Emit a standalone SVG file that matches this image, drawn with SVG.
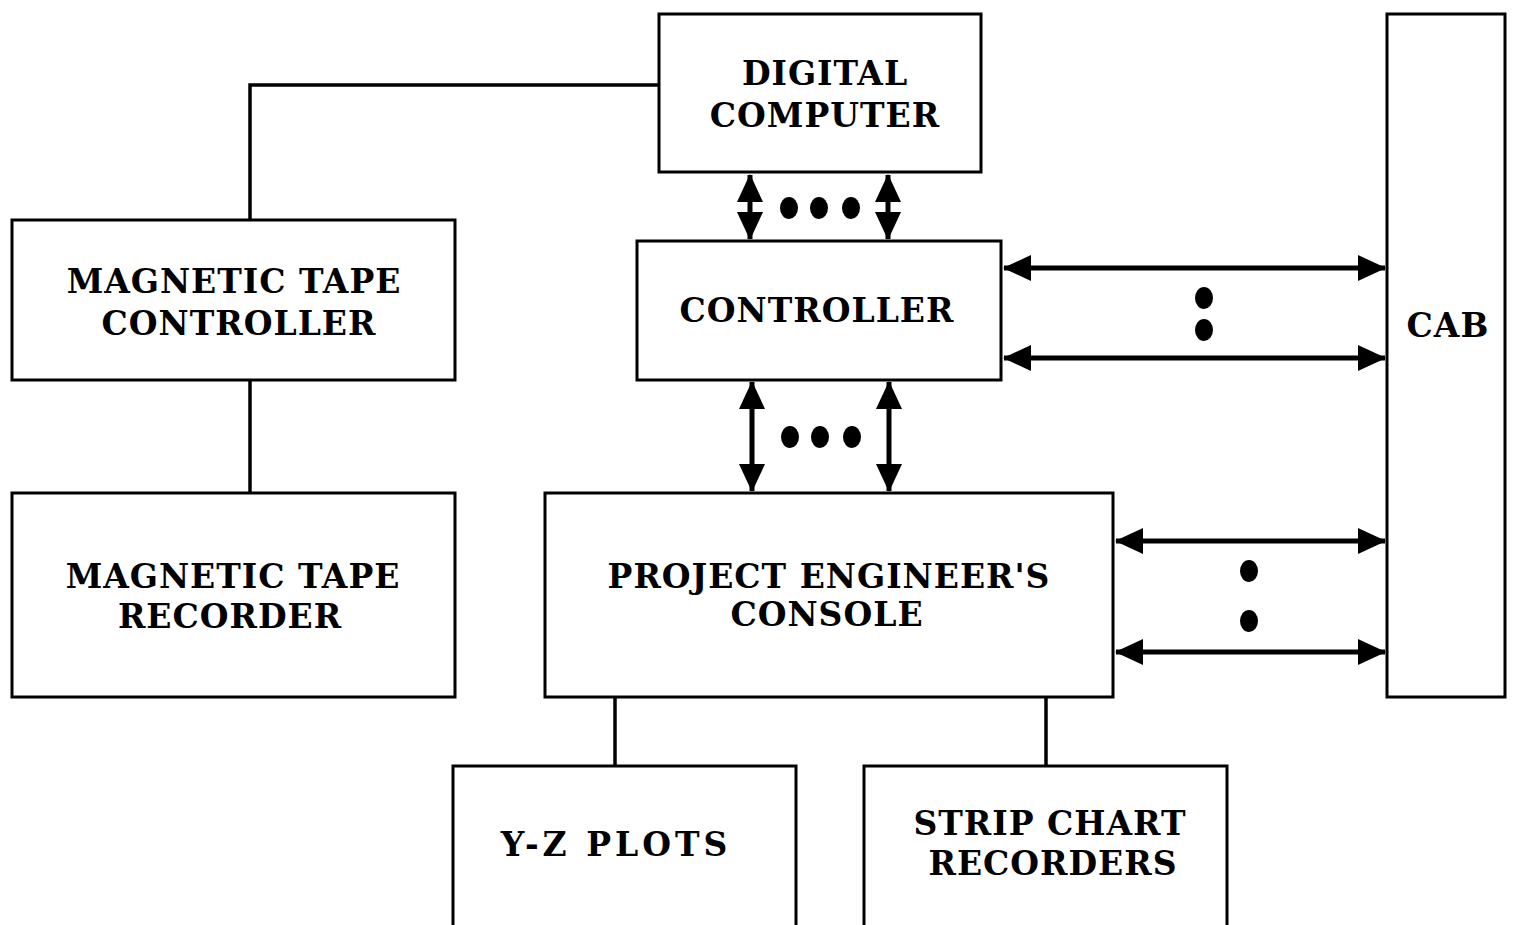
<svg xmlns="http://www.w3.org/2000/svg" width="1516" height="925" viewBox="0 0 1516 925">
<defs>
<style>
.box{fill:#fff;stroke:#000;stroke-width:3}
.t{font-family:"DejaVu Serif","Liberation Serif",serif;font-weight:bold;font-size:33px;text-anchor:middle;fill:#000;letter-spacing:1px}
.ln{fill:none;stroke:#000;stroke-width:3.5}
.ar{fill:none;stroke:#000;stroke-width:5;marker-start:url(#ah);marker-end:url(#ah)}
.dot{fill:#000}
</style>
<marker id="ah" viewBox="0 0 28 26" refX="27" refY="13" markerWidth="28" markerHeight="26" markerUnits="userSpaceOnUse" orient="auto-start-reverse">
<path d="M0,0 L28,13 L0,26 Z" fill="#000"/>
</marker>
</defs>
<rect width="1516" height="925" fill="#fff"/>
<g id="connectors">
<polyline class="ln" points="659,85 250,85 250,220"/>
<line class="ln" x1="250" y1="380" x2="250" y2="493"/>
<line class="ln" x1="615" y1="697" x2="615" y2="766"/>
<line class="ln" x1="1046" y1="697" x2="1046" y2="766"/>
<line class="ar" x1="750" y1="175" x2="750" y2="239"/>
<line class="ar" x1="888" y1="175" x2="888" y2="239"/>
<line class="ar" x1="752" y1="382" x2="752" y2="491"/>
<line class="ar" x1="889" y1="382" x2="889" y2="491"/>
<line class="ar" x1="1004" y1="268" x2="1385" y2="268"/>
<line class="ar" x1="1004" y1="358" x2="1385" y2="358"/>
<line class="ar" x1="1116" y1="541" x2="1385" y2="541"/>
<line class="ar" x1="1116" y1="652" x2="1385" y2="652"/>
<g class="dot">
<ellipse cx="789" cy="208" rx="9" ry="11"/>
<ellipse cx="819" cy="208" rx="9" ry="11"/>
<ellipse cx="851" cy="208" rx="9" ry="11"/>
<ellipse cx="790" cy="437" rx="9" ry="11"/>
<ellipse cx="820" cy="437" rx="9" ry="11"/>
<ellipse cx="852" cy="437" rx="9" ry="11"/>
<ellipse cx="1204" cy="298" rx="9" ry="11"/>
<ellipse cx="1204" cy="330" rx="9" ry="11"/>
<ellipse cx="1249" cy="571" rx="9" ry="11"/>
<ellipse cx="1249" cy="621" rx="9" ry="11"/>
</g>
</g>
<g id="digital-computer">
<rect class="box" x="659" y="14" width="322" height="158"/>
<text class="t" x="825" y="85">DIGITAL</text>
<text class="t" x="825" y="127">COMPUTER</text>
</g>
<g id="magnetic-tape-controller">
<rect class="box" x="12" y="220" width="443" height="160"/>
<text class="t" x="234" y="293">MAGNETIC TAPE</text>
<text class="t" x="239" y="335">CONTROLLER</text>
</g>
<g id="magnetic-tape-recorder">
<rect class="box" x="12" y="493" width="443" height="204"/>
<text class="t" x="233" y="588">MAGNETIC TAPE</text>
<text class="t" x="230" y="628">RECORDER</text>
</g>
<g id="controller">
<rect class="box" x="637" y="241" width="364" height="139"/>
<text class="t" x="817" y="322">CONTROLLER</text>
</g>
<g id="project-engineers-console">
<rect class="box" x="545" y="493" width="568" height="204"/>
<text class="t" x="829" y="588">PROJECT ENGINEER'S</text>
<text class="t" x="827" y="626">CONSOLE</text>
</g>
<g id="cab">
<rect class="box" x="1387" y="14" width="118" height="683"/>
<text class="t" x="1448" y="337">CAB</text>
</g>
<g id="yz-plots">
<rect class="box" x="453" y="766" width="343" height="170"/>
<text class="t" x="616" y="856" style="letter-spacing:4px">Y-Z PLOTS</text>
</g>
<g id="strip-chart-recorders">
<rect class="box" x="864" y="766" width="363" height="170"/>
<text class="t" x="1050" y="835">STRIP CHART</text>
<text class="t" x="1053" y="875">RECORDERS</text>
</g>
</svg>
